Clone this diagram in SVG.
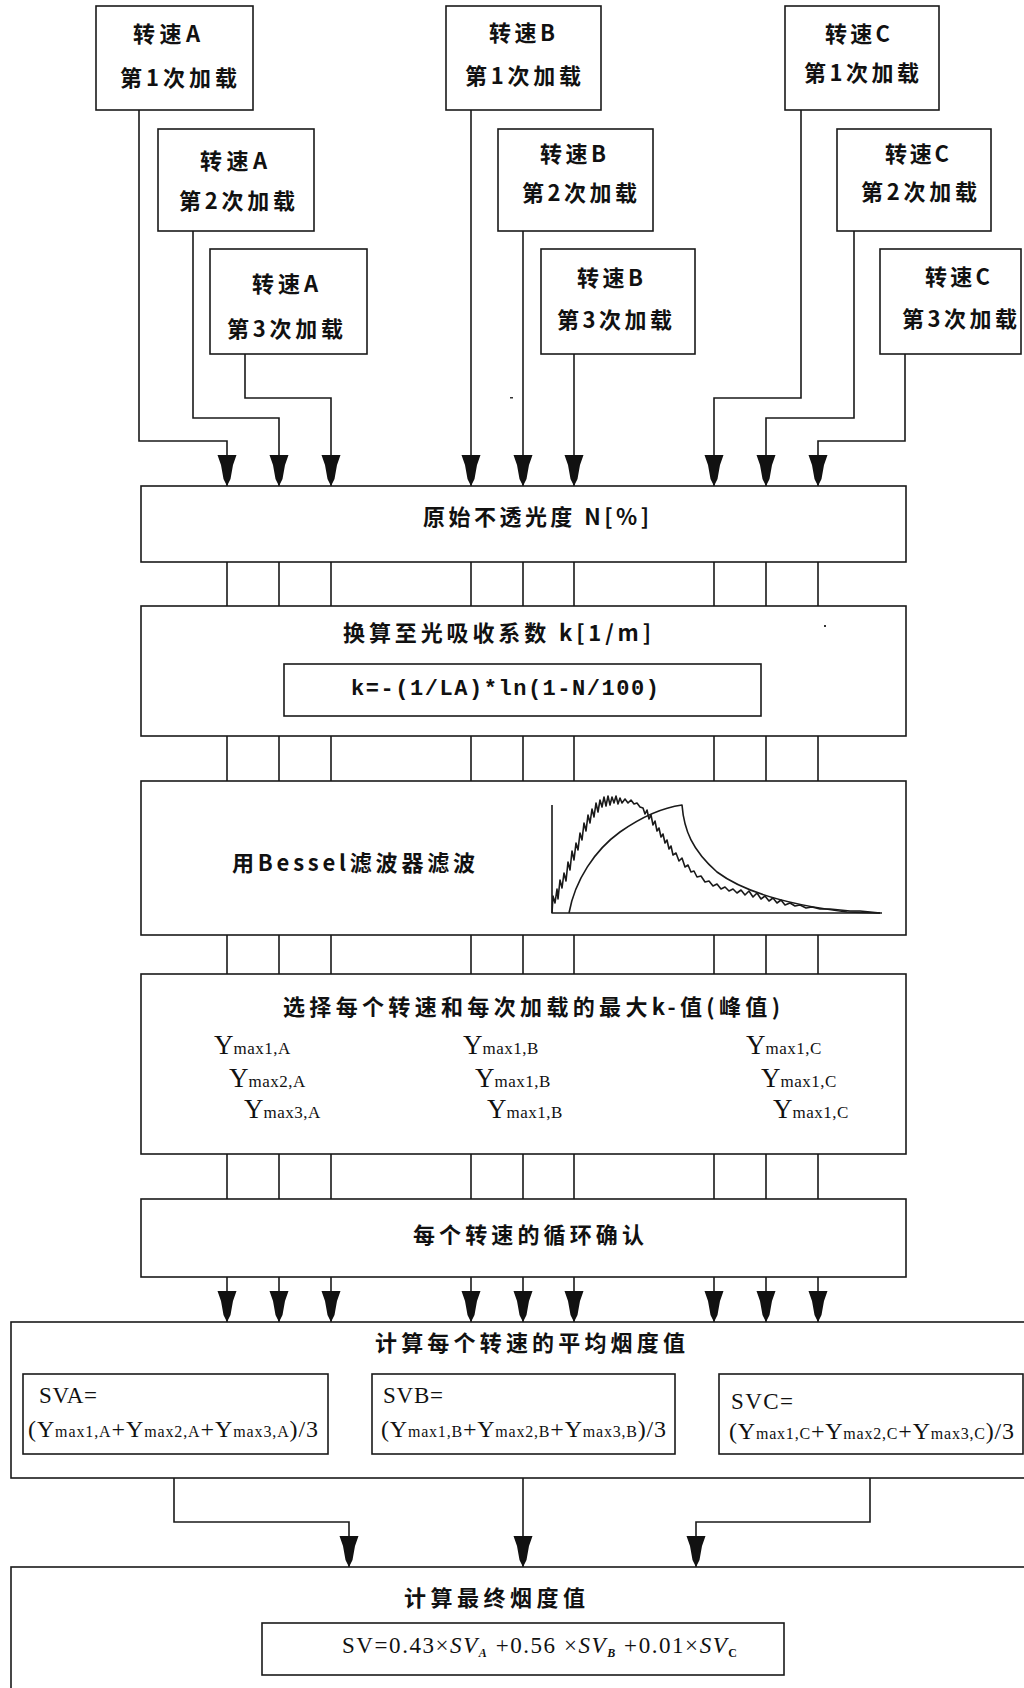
<svg xmlns="http://www.w3.org/2000/svg" width="1024" height="1688" viewBox="0 0 1024 1688">
<style>
.box{fill:#fff;stroke:#1a1a1a;stroke-width:1.6}
.conn{fill:none;stroke:#1a1a1a;stroke-width:1.6}
.cjk{font-family:"Noto Sans CJK SC","Liberation Sans",sans-serif;font-weight:700;font-size:22px;fill:#111}
.mono{font-family:"Liberation Mono","Noto Sans CJK SC",monospace;font-weight:700;font-size:22px;fill:#111}
.ser{font-family:"Liberation Serif","Noto Sans CJK SC",serif;fill:#111}
.curve{fill:none;stroke:#1a1a1a;stroke-width:1.6;stroke-linejoin:round}
.yb{font-size:27px}
.ys{font-size:17px}
</style>
<defs>
<marker id="arr" viewBox="0 -10 31 20" refX="31" refY="0" markerWidth="31" markerHeight="20" markerUnits="userSpaceOnUse" orient="auto">
<path d="M0,-9.5 L10,-6 L24,-3.5 L31,0 L24,3.5 L10,6 L0,9.5 Z" fill="#111"/>
</marker>
</defs>
<rect width="1024" height="1688" fill="#fff"/>

<g id="connectors">
<path class="conn" marker-end="url(#arr)" d="M139,110 V441 H227 V486"/>
<path class="conn" marker-end="url(#arr)" d="M193,231 V418 H279 V486"/>
<path class="conn" marker-end="url(#arr)" d="M245,354 V398 H331 V486"/>
<path class="conn" marker-end="url(#arr)" d="M471,110 V486"/>
<path class="conn" marker-end="url(#arr)" d="M523,231 V486"/>
<path class="conn" marker-end="url(#arr)" d="M574,354 V486"/>
<path class="conn" marker-end="url(#arr)" d="M801,110 V398 H714 V486"/>
<path class="conn" marker-end="url(#arr)" d="M854,231 V418 H766 V486"/>
<path class="conn" marker-end="url(#arr)" d="M905,354 V441 H818 V486"/>
<path class="conn" d="M227,562V606M279,562V606M331,562V606M471,562V606M523,562V606M574,562V606M714,562V606M766,562V606M818,562V606"/>
<path class="conn" d="M227,736V781M279,736V781M331,736V781M471,736V781M523,736V781M574,736V781M714,736V781M766,736V781M818,736V781"/>
<path class="conn" d="M227,935V974M279,935V974M331,935V974M471,935V974M523,935V974M574,935V974M714,935V974M766,935V974M818,935V974"/>
<path class="conn" d="M227,1154V1199M279,1154V1199M331,1154V1199M471,1154V1199M523,1154V1199M574,1154V1199M714,1154V1199M766,1154V1199M818,1154V1199"/>
<path class="conn" marker-end="url(#arr)" d="M227,1277V1322"/>
<path class="conn" marker-end="url(#arr)" d="M279,1277V1322"/>
<path class="conn" marker-end="url(#arr)" d="M331,1277V1322"/>
<path class="conn" marker-end="url(#arr)" d="M471,1277V1322"/>
<path class="conn" marker-end="url(#arr)" d="M523,1277V1322"/>
<path class="conn" marker-end="url(#arr)" d="M574,1277V1322"/>
<path class="conn" marker-end="url(#arr)" d="M714,1277V1322"/>
<path class="conn" marker-end="url(#arr)" d="M766,1277V1322"/>
<path class="conn" marker-end="url(#arr)" d="M818,1277V1322"/>
<path class="conn" marker-end="url(#arr)" d="M174,1478 V1522 H349 V1567"/>
<path class="conn" marker-end="url(#arr)" d="M523,1478 V1567"/>
<path class="conn" marker-end="url(#arr)" d="M870,1478 V1522 H696 V1567"/>
</g>

<g id="A1"><rect class="box" x="96" y="6" width="157" height="104"/>
<text class="cjk" x="133" y="42" textLength="67" lengthAdjust="spacing">转速A</text>
<text class="cjk" x="120" y="86" textLength="117" lengthAdjust="spacing">第1次加载</text></g>
<g id="A2"><rect class="box" x="158" y="129" width="156" height="102"/>
<text class="cjk" x="200" y="169" textLength="67" lengthAdjust="spacing">转速A</text>
<text class="cjk" x="179" y="209" textLength="116" lengthAdjust="spacing">第2次加载</text></g>
<g id="A3"><rect class="box" x="210" y="249" width="157" height="105"/>
<text class="cjk" x="252" y="292" textLength="66" lengthAdjust="spacing">转速A</text>
<text class="cjk" x="227" y="337" textLength="116" lengthAdjust="spacing">第3次加载</text></g>

<g id="B1"><rect class="box" x="446" y="6" width="155" height="104"/>
<text class="cjk" x="489" y="41" textLength="66" lengthAdjust="spacing">转速B</text>
<text class="cjk" x="465" y="84" textLength="116" lengthAdjust="spacing">第1次加载</text></g>
<g id="B2"><rect class="box" x="498" y="129" width="155" height="102"/>
<text class="cjk" x="540" y="162" textLength="66" lengthAdjust="spacing">转速B</text>
<text class="cjk" x="522" y="201" textLength="115" lengthAdjust="spacing">第2次加载</text></g>
<g id="B3"><rect class="box" x="541" y="249" width="154" height="105"/>
<text class="cjk" x="577" y="286" textLength="66" lengthAdjust="spacing">转速B</text>
<text class="cjk" x="557" y="328" textLength="115" lengthAdjust="spacing">第3次加载</text></g>

<g id="C1"><rect class="box" x="785" y="6" width="154" height="104"/>
<text class="cjk" x="825" y="42" textLength="65" lengthAdjust="spacing">转速C</text>
<text class="cjk" x="804" y="81" textLength="115" lengthAdjust="spacing">第1次加载</text></g>
<g id="C2"><rect class="box" x="837" y="129" width="154" height="102"/>
<text class="cjk" x="885" y="162" textLength="64" lengthAdjust="spacing">转速C</text>
<text class="cjk" x="861" y="200" textLength="116" lengthAdjust="spacing">第2次加载</text></g>
<g id="C3"><rect class="box" x="880" y="249" width="141" height="105"/>
<text class="cjk" x="925" y="285" textLength="65" lengthAdjust="spacing">转速C</text>
<text class="cjk" x="902" y="327" textLength="115" lengthAdjust="spacing">第3次加载</text></g>

<g id="opacity"><rect class="box" x="141" y="486" width="765" height="76"/>
<text class="cjk" x="423" y="525" textLength="226" lengthAdjust="spacing">原始不透光度 N[%]</text></g>

<g id="convert"><rect class="box" x="141" y="606" width="765" height="130"/>
<text class="cjk" x="343" y="641" textLength="308" lengthAdjust="spacing">换算至光吸收系数 k[1/m]</text>
<rect class="box" x="284" y="664" width="477" height="52"/>
<text class="mono" x="351" y="695" textLength="308" lengthAdjust="spacing">k=-(1/LA)*ln(1-N/100)</text></g>

<g id="bessel"><rect class="box" x="141" y="781" width="765" height="154"/>
<text class="cjk" x="232" y="871" textLength="243" lengthAdjust="spacing">用Bessel滤波器滤波</text>
<path class="curve" d="M552,805 V913 H882"/>
<path class="curve" d="M569,913 C575,880 595,850 620,832 C640,818 660,808 682,805 C684,830 692,850 717,872 C745,893 790,905 847,912 L880,913"/>
<polyline class="curve" stroke-width="2.2" points="552,913 553,896 555,903 557,889 558,899 560,880 562,888 564,873 566,881 568,862 570,870 572,851 574,860 576,843 578,850 580,833 582,840 584,823 586,831 588,815 590,823 592,809 594,817 596,803 598,812 600,800 602,807 604,797 606,806 608,796 610,805 612,797 614,803 616,796 618,804 620,798 622,803 625,799 628,803 631,800 634,804 637,803 640,807 643,808 645,814 647,810 649,819 651,815 653,825 655,821 657,831 659,828 661,837 663,834 665,843 667,840 669,849 671,846 673,855 676,853 679,861 682,858 685,867 688,865 691,872 694,871 697,877 701,876 705,882 709,881 713,886 717,884 721,889 725,887 729,891 733,889 737,893 741,890 745,895 749,891 753,897 757,893 761,899 765,896 769,901 773,898 777,903 781,900 785,905 790,903 795,906 800,905 806,908 812,907 820,909 830,909 840,910 850,911 860,911 870,912 880,913"/></g>

<g id="select"><rect class="box" x="141" y="974" width="765" height="180"/>
<text class="cjk" x="283" y="1015" textLength="497" lengthAdjust="spacing">选择每个转速和每次加载的最大k-值(峰值)</text>
<text class="ser" x="214" y="1054"><tspan class="yb">Y</tspan><tspan class="ys" letter-spacing="0.5">max1,A</tspan></text>
<text class="ser" x="229" y="1087"><tspan class="yb">Y</tspan><tspan class="ys" letter-spacing="0.5">max2,A</tspan></text>
<text class="ser" x="244" y="1118"><tspan class="yb">Y</tspan><tspan class="ys" letter-spacing="0.5">max3,A</tspan></text>
<text class="ser" x="463" y="1054"><tspan class="yb">Y</tspan><tspan class="ys" letter-spacing="0.5">max1,B</tspan></text>
<text class="ser" x="475" y="1087"><tspan class="yb">Y</tspan><tspan class="ys" letter-spacing="0.5">max1,B</tspan></text>
<text class="ser" x="487" y="1118"><tspan class="yb">Y</tspan><tspan class="ys" letter-spacing="0.5">max1,B</tspan></text>
<text class="ser" x="746" y="1054"><tspan class="yb">Y</tspan><tspan class="ys" letter-spacing="0.5">max1,C</tspan></text>
<text class="ser" x="761" y="1087"><tspan class="yb">Y</tspan><tspan class="ys" letter-spacing="0.5">max1,C</tspan></text>
<text class="ser" x="773" y="1118"><tspan class="yb">Y</tspan><tspan class="ys" letter-spacing="0.5">max1,C</tspan></text></g>

<g id="cycle"><rect class="box" x="141" y="1199" width="765" height="78"/>
<text class="cjk" x="413" y="1243" textLength="231" lengthAdjust="spacing">每个转速的循环确认</text></g>

<g id="average"><rect class="box" x="11" y="1322" width="1030" height="156"/>
<text class="cjk" x="375" y="1351" textLength="310" lengthAdjust="spacing">计算每个转速的平均烟度值</text>
<rect class="box" x="23" y="1374" width="305" height="80"/>
<text class="ser" x="39" y="1403" font-size="23" textLength="58" lengthAdjust="spacing">SVA=</text>
<text class="ser" x="28" y="1437" textLength="290" lengthAdjust="spacing"><tspan font-size="24">(Y</tspan><tspan font-size="16">max1,A</tspan><tspan font-size="24">+Y</tspan><tspan font-size="16">max2,A</tspan><tspan font-size="24">+Y</tspan><tspan font-size="16">max3,A</tspan><tspan font-size="24">)/3</tspan></text>
<rect class="box" x="372" y="1374" width="303" height="80"/>
<text class="ser" x="383" y="1403" font-size="23" textLength="60" lengthAdjust="spacing">SVB=</text>
<text class="ser" x="381" y="1437" textLength="285" lengthAdjust="spacing"><tspan font-size="24">(Y</tspan><tspan font-size="16">max1,B</tspan><tspan font-size="24">+Y</tspan><tspan font-size="16">max2,B</tspan><tspan font-size="24">+Y</tspan><tspan font-size="16">max3,B</tspan><tspan font-size="24">)/3</tspan></text>
<rect class="box" x="719" y="1374" width="304" height="80"/>
<text class="ser" x="731" y="1409" font-size="23" textLength="62" lengthAdjust="spacing">SVC=</text>
<text class="ser" x="729" y="1439" textLength="285" lengthAdjust="spacing"><tspan font-size="24">(Y</tspan><tspan font-size="16">max1,C</tspan><tspan font-size="24">+Y</tspan><tspan font-size="16">max2,C</tspan><tspan font-size="24">+Y</tspan><tspan font-size="16">max3,C</tspan><tspan font-size="24">)/3</tspan></text></g>

<g id="final"><rect class="box" x="11" y="1567" width="1030" height="140"/>
<text class="cjk" x="404" y="1606" textLength="181" lengthAdjust="spacing">计算最终烟度值</text>
<rect class="box" x="262" y="1623" width="522" height="52"/>
<text class="ser" x="342" y="1653" font-size="23" textLength="395" lengthAdjust="spacing">SV=0.43×<tspan font-style="italic">SV</tspan><tspan font-size="12" font-style="italic" font-weight="700" dy="4">A</tspan><tspan dy="-4"> +0.56 ×</tspan><tspan font-style="italic">SV</tspan><tspan font-size="12" font-style="italic" font-weight="700" dy="4">B</tspan><tspan dy="-4"> +0.01×</tspan><tspan font-style="italic">SV</tspan><tspan font-size="12" font-weight="700" dy="4">C</tspan></text></g>

<rect x="510" y="397" width="3" height="1.5" fill="#333"/>
<rect x="824" y="625" width="2" height="2" fill="#333"/>
</svg>
